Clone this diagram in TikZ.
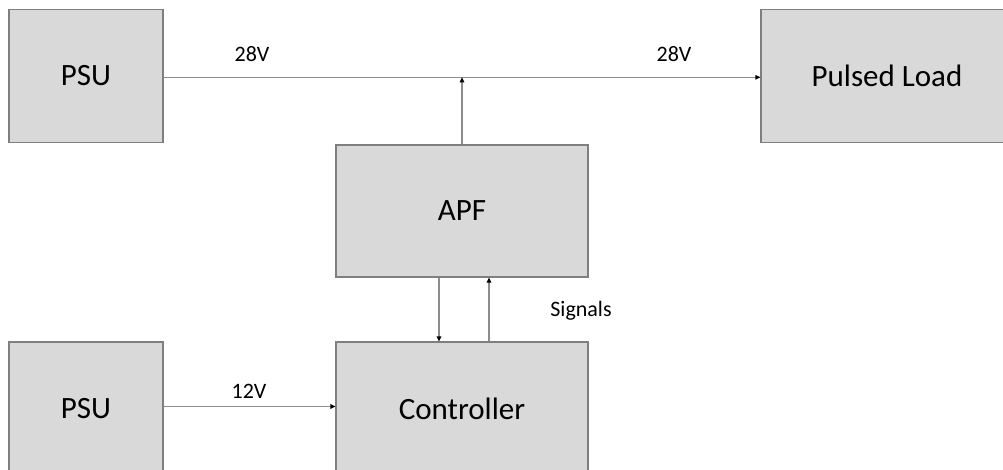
\documentclass[tikz,border=0pt]{standalone}
\usepackage{fontspec}
\setmainfont{Carlito}
\usetikzlibrary{arrows.meta}
\definecolor{boxfill}{HTML}{D9D9D9}
\definecolor{boxline}{HTML}{7F7F7F}
\definecolor{wire}{HTML}{8C8C8C}
\begin{document}
\begin{tikzpicture}[x=1pt,y=-1pt,
  blk/.style={draw=boxline,fill=boxfill,line width=1.1pt,inner sep=0pt,
    font=\fontsize{31}{37}\selectfont},
  wirearrow/.style={draw=wire,line width=1.1pt,-{Triangle[length=5pt,width=4.5pt,fill=black,color=black]}},
  lbl/.style={anchor=base,inner sep=0pt,font=\fontsize{22}{26}\selectfont}]
\useasboundingbox (0,0) rectangle (1003,470);
\clip (0,0) rectangle (1003,470);
\node[blk,minimum width=154pt,minimum height=133pt] (psu1) at (86,76) {PSU};
\node[blk,minimum width=252pt,minimum height=133pt] (load) at (887,76) {Pulsed Load};
\node[blk,minimum width=252pt,minimum height=132pt] (apf) at (462,211) {APF};
\node[blk,minimum width=252pt,minimum height=134pt] (ctrl) at (462,409) {Controller};
\node[blk,minimum width=154pt,minimum height=134pt] (psu2) at (86,409) {PSU};
\coordinate (bus) at ([yshift=-1.3pt]psu1.east);
\draw[wirearrow] (bus) -- (bus -| load.west);
\draw[wirearrow] (apf.north) -- (apf.north |- bus);
\draw[wirearrow] ([xshift=-23pt]apf.south) -- ([xshift=-23pt]ctrl.north);
\draw[wirearrow] ([xshift=27pt]ctrl.north) -- ([xshift=27pt]apf.south);
\draw[wirearrow] ([yshift=2.5pt]psu2.east) -- ([yshift=2.5pt]ctrl.west);
\node[lbl] (l28a) at (252,61.7) {28V};
\node[lbl] (l28b) at (674,61.7) {28V};
\node[lbl] (l12) at (249,398) {12V};
\node[lbl] (sig) at (581,316.7) {Signals};
\end{tikzpicture}
\end{document}
